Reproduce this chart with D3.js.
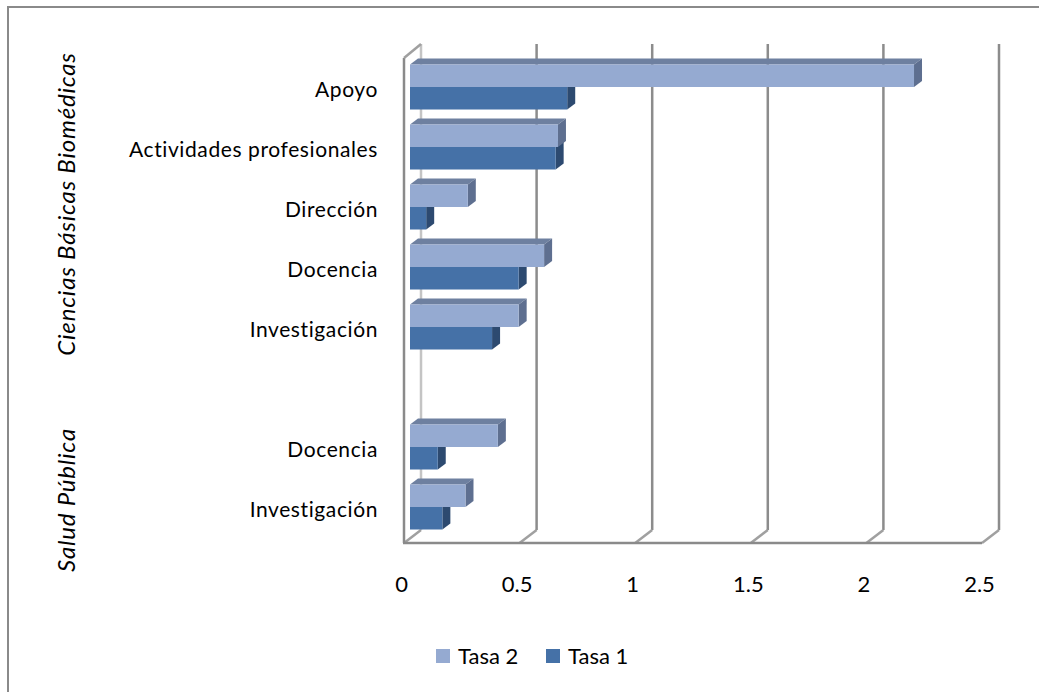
<!DOCTYPE html>
<html>
<head>
<meta charset="utf-8">
<script src="https://cdn.jsdelivr.net/npm/d3@7"></script>
<style>
  html, body { margin: 0; padding: 0; background: #fff; }
  svg { display: block; }
  text { font-family: Lato, "Open Sans", sans-serif; fill: #000; }
</style>
</head>
<body>
<svg id="chart" width="1039" height="692"></svg>
<script>
// ---- data ----
const categories = ["Apoyo", "Actividades profesionales", "Dirección", "Docencia", "Investigación", "", "Docencia", "Investigación"];
const tasa2 = [2.18, 0.64, 0.25, 0.58, 0.47, null, 0.38, 0.24];
const tasa1 = [0.68, 0.63, 0.07, 0.47, 0.355, null, 0.12, 0.14];
const seriesNames = ["Tasa 2", "Tasa 1"];
const groupNames = ["Ciencias Básicas Biomédicas", "Salud Pública"];
const groupMembers = [[0, 1, 2, 3, 4], [6, 7]];
const xTicks = [0, 0.5, 1, 1.5, 2, 2.5];

// ---- styles ----
const colors = {
  "Tasa 2": { front: "#95aad1", top: "#6e80a0", side: "#5e6f90" },
  "Tasa 1": { front: "#4571a7", top: "#3a5f8c", side: "#2d4a70" }
};

const svg = d3.select("#chart");
const slots = d3.range(categories.length);

// geometry
const floorFront = 543, floorBack = 530, wallTopFront = 58, wallTopBack = 44;
const xFront = d3.scaleLinear().domain([0, 2.5]).range([404, 982]);
const xBack = d3.scaleLinear().domain([0, 2.5]).range([421, 999]);
const xBar = d3.scaleLinear().domain([0, 2.5]).range([410, 988]);
const y = d3.scaleBand().domain(slots).range([57, 537]).paddingInner(0.25).paddingOuter(0.125);
const ySub = d3.scaleBand().domain(seriesNames).range([0, y.bandwidth()]);
const depth = { dx: 8, dy: -6 };

// outer border (left/top visible)
svg.append("path").attr("d", "M8,700 L8,7 L1100,7")
  .attr("fill", "none").attr("stroke", "#8a8a8a").attr("stroke-width", 2);

// back wall left edge
svg.append("line").attr("x1", xBack(0)).attr("x2", xBack(0))
  .attr("y1", wallTopBack).attr("y2", floorBack)
  .attr("stroke", "#c4c4c4").attr("stroke-width", 2.5);

// gridlines on back wall + floor diagonals
const g = svg.append("g");
g.selectAll("line.grid").data(xTicks.filter(d => d > 0)).join("line")
  .attr("class", "grid")
  .attr("x1", d => xBack(d)).attr("x2", d => xBack(d))
  .attr("y1", wallTopBack).attr("y2", floorBack)
  .attr("stroke", "#8c8c8c").attr("stroke-width", 2.5);
g.selectAll("line.diag").data(xTicks).join("line")
  .attr("class", "diag")
  .attr("x1", d => xBack(d)).attr("x2", d => xFront(d))
  .attr("y1", floorBack).attr("y2", floorFront)
  .attr("stroke", "#a0a0a0").attr("stroke-width", 2.5);
// floor front edge
g.append("line").attr("x1", xFront(0) - 1).attr("x2", xFront(2.5))
  .attr("y1", floorFront).attr("y2", floorFront)
  .attr("stroke", "#8a8a8a").attr("stroke-width", 2.5);
// left wall front edge + top diagonal
g.append("line").attr("x1", xFront(0)).attr("x2", xFront(0))
  .attr("y1", wallTopFront).attr("y2", floorFront)
  .attr("stroke", "#8a8a8a").attr("stroke-width", 2.5);
g.append("line").attr("x1", xFront(0)).attr("x2", xBack(0))
  .attr("y1", wallTopFront).attr("y2", wallTopBack)
  .attr("stroke", "#a0a0a0").attr("stroke-width", 2.5);

// bars
const barData = [];
slots.forEach(i => {
  if (tasa1[i] != null) barData.push({ slot: i, series: "Tasa 1", value: tasa1[i] });
  if (tasa2[i] != null) barData.push({ slot: i, series: "Tasa 2", value: tasa2[i] });
});
const bars = svg.append("g").selectAll("g.bar").data(barData).join("g").attr("class", "bar");
bars.each(function (d) {
  const sel = d3.select(this);
  const x0 = xBar(0), x1 = xBar(d.value);
  const y0 = y(d.slot) + ySub(d.series), h = ySub.bandwidth();
  const c = colors[d.series];
  // top face
  sel.append("path")
    .attr("d", `M${x0},${y0} L${x0 + depth.dx},${y0 + depth.dy} L${x1 + depth.dx},${y0 + depth.dy} L${x1},${y0} Z`)
    .attr("fill", c.top);
  // side face
  sel.append("path")
    .attr("d", `M${x1},${y0} L${x1 + depth.dx},${y0 + depth.dy} L${x1 + depth.dx},${y0 + h + depth.dy} L${x1},${y0 + h} Z`)
    .attr("fill", c.side);
  // front face
  sel.append("rect").attr("x", x0).attr("y", y0).attr("width", x1 - x0).attr("height", h)
    .attr("fill", c.front);
});

// category labels
svg.append("g").selectAll("text").data(slots.filter(i => categories[i] !== "")).join("text")
  .attr("x", 378)
  .attr("y", i => y(i) + y.bandwidth() / 2 + 1)
  .attr("text-anchor", "end")
  .attr("dominant-baseline", "central")
  .attr("font-size", 21)
  .attr("letter-spacing", 0.6)
  .text(i => categories[i]);

// group labels (centred on their member rows)
svg.append("g").selectAll("text").data(groupNames).join("text")
  .attr("transform", (d, k) => {
    const cy = k === 0 ? 204 : 500;
    return `translate(75,${cy}) rotate(-90)`;
  })
  .attr("text-anchor", "middle")
  .attr("font-size", 24)
  .attr("letter-spacing", 0.8)
  .attr("font-style", "italic")
  .text(d => d);

// x axis labels
const axis = d3.axisBottom(xFront).tickValues(xTicks).tickSize(0).tickPadding(0)
  .tickFormat(d3.format("~g"));
const ax = svg.append("g").attr("transform", "translate(-3,592)").call(axis);
ax.select(".domain").remove();
ax.selectAll("text").attr("font-size", 22).attr("dy", 0).attr("fill", "#000")
  .style("font-family", "Lato, 'Open Sans', sans-serif");

// legend
const legendX = { "Tasa 2": 436, "Tasa 1": 546 };
const leg = svg.append("g").selectAll("g").data(seriesNames).join("g")
  .attr("transform", d => `translate(${legendX[d]},649)`);
leg.append("rect").attr("width", 14).attr("height", 14).attr("fill", d => colors[d].front);
leg.append("text").attr("x", 22).attr("y", 15).attr("font-size", 22).text(d => d);
</script>
</body>
</html>
